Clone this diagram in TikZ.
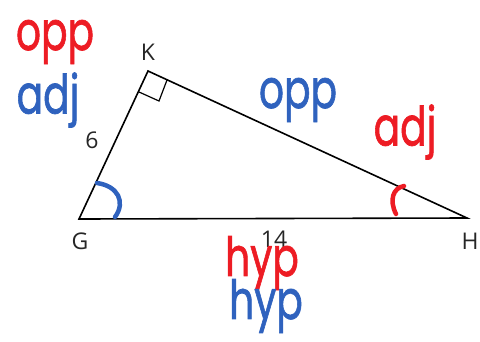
\documentclass[tikz,border=0pt]{standalone}
\usepackage{fontspec}
\setmainfont{Open Sans}
\newfontfamily\hand[FakeBold=1.4]{Poppins}
\definecolor{myred}{HTML}{ED1C24}
\definecolor{myblue}{HTML}{2F62BE}
\newcommand{\tall}[1]{\scalebox{0.98}[1.35]{#1}}
\begin{document}
\begin{tikzpicture}[x=1pt,y=-1pt,
  lbl/.style={font=\fontsize{23}{23}\selectfont, text=black!85, inner sep=0pt},
  hw/.style={font=\hand\fontsize{40}{40}\selectfont, inner sep=0pt},
  anglemark/.style={line width=4.5pt, line cap=round}]
\useasboundingbox (0,0) rectangle (480,341);
\coordinate (G) at (79,219);
\coordinate (K) at (148,71);
\coordinate (H) at (467,218);
\draw[line width=1.6pt, line join=miter] (G) -- (K) -- (H) -- cycle;
\draw[line width=1.2pt] (139,92) -- (159,101) -- (167,80);
\node[lbl] (lK) at (148,52) {K};
\node[lbl] (lG) at (80,241) {G};
\node[lbl] (lH) at (470,241) {H};
\node[lbl] (l6) at (92,140) {6};
\node[lbl] (l14) at (274,239) {14};
\node[hw, text=myred] (o1) at (55,42) {\tall{opp}};
\node[hw, text=myblue] (a1) at (48,100) {\tall{adj}};
\node[hw, text=myblue] (o2) at (298,100) {\tall{opp}};
\node[hw, text=myred] (a2) at (405,132) {\tall{adj}};
\node[hw, text=myred] (h1) at (262,263) {\tall{hyp}};
\node[hw, text=myblue] (h2) at (266,306) {\tall{hyp}};
\draw[anglemark, myblue] (97,183) .. controls (118,186) and (126,202) .. (115,217);
\draw[anglemark, myred] (404,186) .. controls (393,188) and (389,200) .. (396,214);
\end{tikzpicture}
\end{document}
